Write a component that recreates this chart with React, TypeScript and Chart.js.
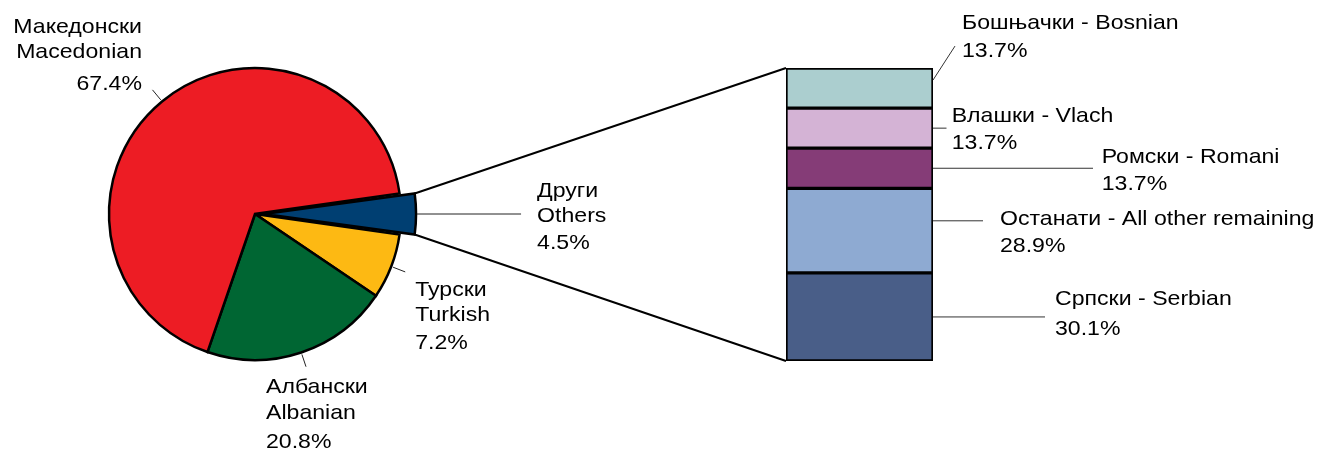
import React, { useEffect, useRef } from 'react';
import { Chart, registerables } from 'chart.js';

Chart.register(...registerables);

// ---------- data ----------
const PIE_NAMES_MK = ['Други', 'Турски', 'Албански', 'Македонски'];
const PIE_NAMES_EN = ['Others', 'Turkish', 'Albanian', 'Macedonian'];
const PIE_VALUES = [4.5, 7.2, 20.8, 67.4];
const PIE_COLORS = ['#003F72', '#FDB913', '#006633', '#ED1C24'];

const BAR_NAMES_MK = ['Бошњачки', 'Влашки', 'Ромски', 'Останати', 'Српски'];
const BAR_NAMES_EN = ['Bosnian', 'Vlach', 'Romani', 'All other remaining', 'Serbian'];
const BAR_VALUES = [13.7, 13.7, 13.7, 28.9, 30.1];
const BAR_COLORS = ['#ABCECF', '#D4B3D5', '#853C77', '#8EAAD2', '#495E88'];
const BAR_CATEGORY = ['Други - Others'];

// ---------- layout / style ----------
const W = 1320;
const H = 450;
const FONT = '21px "Liberation Sans", Arial, sans-serif';
const SX = 1.1; // horizontal text stretch
const PIE_RADIUS = 146;
const OTHERS_OFFSET = 35;

type PieLabelLayout = {
  kind: 'radial' | 'horizontal';
  lead: number;
  align: CanvasTextAlign;
  dx: number;
  dys: number[];
};
const PIE_LABEL_LAYOUT: PieLabelLayout[] = [
  { kind: 'horizontal', lead: 104, align: 'left', dx: 16, dys: [-17.5, 7.7, 34.7] },
  { kind: 'radial', lead: 15, align: 'left', dx: 10, dys: [24, 49, 77] },
  { kind: 'radial', lead: 15, align: 'left', dx: -40, dys: [26.6, 52.6, 81.6] },
  { kind: 'radial', lead: 15, align: 'right', dx: -10.5, dys: [-57, -32, 0] },
];

type BarLabelLayout = { sdy: number; vx: number; vy: number; dx: number; dys: number[] };
const BAR_LABEL_LAYOUT: BarLabelLayout[] = [
  { sdy: -8, vx: 22, vy: -34, dx: 7, dys: [-16.7, 11.3] },
  { sdy: 0, vx: 13.5, vy: 0, dx: 5.2, dys: [-6.6, 21] },
  { sdy: 0, vx: 160, vy: 0, dx: 8.7, dys: [-5, 21.7] },
  { sdy: -9.8, vx: 50, vy: 0, dx: 17, dys: [4.3, 31.6] },
  { sdy: 0, vx: 112, vy: 0, dx: 10, dys: [-11.7, 18.3] },
];

const pct = (v: number) => v.toFixed(1) + '%';

function drawText(ctx: CanvasRenderingContext2D, text: string, x: number, y: number, align: CanvasTextAlign) {
  ctx.save();
  ctx.translate(x, y);
  ctx.scale(SX, 1);
  ctx.font = FONT;
  ctx.fillStyle = '#000';
  ctx.textAlign = align;
  ctx.textBaseline = 'alphabetic';
  ctx.fillText(text, 0, 0);
  ctx.restore();
}

function line(ctx: CanvasRenderingContext2D, x1: number, y1: number, x2: number, y2: number, w: number, c: string) {
  ctx.save();
  ctx.beginPath();
  ctx.moveTo(x1, y1);
  ctx.lineTo(x2, y2);
  ctx.lineWidth = w;
  ctx.strokeStyle = c;
  ctx.stroke();
  ctx.restore();
}

// geometry of an exploded arc as Chart.js draws it
function explodedGeom(el: any) {
  const { x, y, startAngle, endAngle, outerRadius } = el;
  const circ = endAngle - startAngle;
  const off = ((el.options && el.options.offset) || 0) / 4;
  const fix = 1 - Math.sin(Math.min(Math.PI, circ));
  const rOff = off * fix;
  const R = outerRadius + rOff;
  const beta = Math.max(0.001, circ * R - rOff / Math.PI) / R;
  const ao = (circ - beta) / 2;
  const half = (startAngle + endAngle) / 2;
  const cx = x + Math.cos(half) * off;
  const cy = y + Math.sin(half) * off;
  const pt = (a: number) => ({ x: cx + R * Math.cos(a), y: cy + R * Math.sin(a) });
  return { top: pt(startAngle + ao), bottom: pt(endAngle - ao), tip: pt(half) };
}

export default function App() {
  const pieRef = useRef<HTMLCanvasElement>(null);
  const barRef = useRef<HTMLCanvasElement>(null);

  useEffect(() => {
    if (!pieRef.current || !barRef.current) return;
    const pieTotal = PIE_VALUES.reduce((a, b) => a + b, 0);
    const othersSpan = (PIE_VALUES[0] / pieTotal) * 360;

    const pieLabelPlugin = {
      id: 'pieLabels',
      afterDraw(chart: any) {
        const ctx = chart.ctx as CanvasRenderingContext2D;
        const meta = chart.getDatasetMeta(0);
        meta.data.forEach((el: any, i: number) => {
          const L = PIE_LABEL_LAYOUT[i];
          let sx: number, sy: number, ex: number, ey: number;
          if (L.kind === 'horizontal') {
            const g = explodedGeom(el);
            sx = g.tip.x + 1;
            sy = g.tip.y;
            ex = sx + L.lead;
            ey = sy;
          } else {
            const mid = (el.startAngle + el.endAngle) / 2;
            sx = el.x + Math.cos(mid) * (el.outerRadius + 2);
            sy = el.y + Math.sin(mid) * (el.outerRadius + 2);
            ex = el.x + Math.cos(mid) * (el.outerRadius + L.lead);
            ey = el.y + Math.sin(mid) * (el.outerRadius + L.lead);
          }
          line(ctx, sx, sy, ex, ey, 1, '#222');
          const texts = [PIE_NAMES_MK[i], PIE_NAMES_EN[i], pct(PIE_VALUES[i])];
          texts.forEach((t, k) => drawText(ctx, t, ex + L.dx, ey + L.dys[k], L.align));
        });
      },
    };

    const pie = new Chart(pieRef.current, {
      type: 'pie',
      data: {
        labels: PIE_NAMES_EN,
        datasets: [
          {
            data: PIE_VALUES,
            backgroundColor: PIE_COLORS,
            borderColor: '#000',
            borderWidth: 2.5,
            borderJoinStyle: 'miter',
            offset: PIE_VALUES.map((_, i) => (i === 0 ? OTHERS_OFFSET : 0)),
            radius: PIE_RADIUS,
            rotation: 90 - othersSpan / 2,
          } as any,
        ],
      },
      options: {
        responsive: false,
        animation: false,
        events: [],
        rotation: 90 - othersSpan / 2,
        layout: { padding: { left: 0, right: 810, top: 0, bottom: 22 } },
        plugins: { legend: { display: false }, tooltip: { enabled: false } },
      } as any,
      plugins: [pieLabelPlugin],
    });

    const barTotal = BAR_VALUES.reduce((a, b) => a + b, 0);

    const barPlugin = {
      id: 'barLabels',
      afterDraw(chart: any) {
        const ctx = chart.ctx as CanvasRenderingContext2D;
        const n = BAR_VALUES.length;
        const first = chart.getDatasetMeta(0).data[0] as any;
        const last = chart.getDatasetMeta(n - 1).data[0] as any;
        const left = first.x - first.width / 2;
        const right = first.x + first.width / 2;
        const top = Math.min(first.y, first.base);
        const bottom = Math.max(last.y, last.base);

        // connectors from exploded slice to the bar
        const othersEl = pie.getDatasetMeta(0).data[0] as any;
        const g = explodedGeom(othersEl);
        line(ctx, g.top.x, g.top.y, left, top, 2, '#000');
        line(ctx, g.bottom.x, g.bottom.y, left, bottom, 2, '#000');

        for (let i = 0; i < n; i++) {
          const el = chart.getDatasetMeta(i).data[0] as any;
          const L = BAR_LABEL_LAYOUT[i];
          const cy = (el.y + el.base) / 2;
          const sx = right;
          const sy = cy + L.sdy;
          const ex = sx + L.vx;
          const ey = sy + L.vy;
          line(ctx, sx, sy, ex, ey, 1, '#333');
          drawText(ctx, `${BAR_NAMES_MK[i]} - ${BAR_NAMES_EN[i]}`, ex + L.dx, ey + L.dys[0], 'left');
          drawText(ctx, pct(BAR_VALUES[i]), ex + L.dx, ey + L.dys[1], 'left');
        }
      },
    };

    const bar = new Chart(barRef.current, {
      type: 'bar',
      data: {
        labels: BAR_CATEGORY,
        datasets: BAR_VALUES.map((v, i) => ({
          label: BAR_NAMES_EN[i],
          data: [v],
          backgroundColor: BAR_COLORS[i],
          borderColor: '#000',
          borderWidth: 2,
          borderSkipped: false,
          barPercentage: 1,
          categoryPercentage: 1,
        })) as any,
      },
      options: {
        responsive: false,
        animation: false,
        events: [],
        layout: { padding: { left: 786, right: 387, top: 68, bottom: 89 } },
        scales: {
          x: { stacked: true, display: false },
          y: { stacked: true, display: false, reverse: true, min: 0, max: barTotal },
        },
        plugins: { legend: { display: false }, tooltip: { enabled: false } },
      } as any,
      plugins: [barPlugin],
    });

    return () => {
      bar.destroy();
      pie.destroy();
    };
  }, []);

  const canvasStyle: React.CSSProperties = { position: 'absolute', left: 0, top: 0, width: W, height: H };
  return (
    <div style={{ position: 'absolute', left: 0, top: 0, width: W, height: H, background: '#fff' }}>
      <canvas ref={pieRef} width={W} height={H} style={canvasStyle} />
      <canvas ref={barRef} width={W} height={H} style={canvasStyle} />
    </div>
  );
}
